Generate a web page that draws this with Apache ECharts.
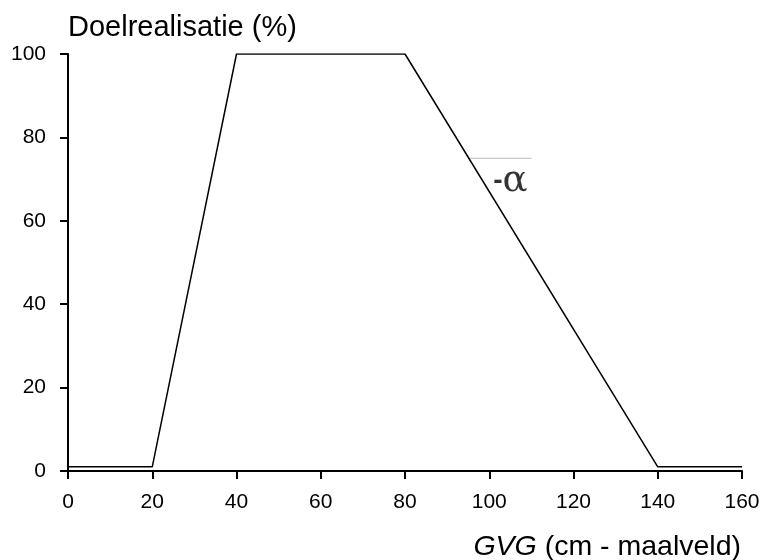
<!DOCTYPE html>
<html>
<head>
<meta charset="utf-8">
<script src="https://cdn.jsdelivr.net/npm/echarts@6/dist/echarts.min.js"></script>
<style>
  html, body { margin: 0; padding: 0; background: #fff; }
  #chart { width: 763px; height: 560px; }
</style>
</head>
<body>
<div id="chart"></div>
<script>
// GVG (cm - maalveld) vs doelrealisatie (%)
const gvg = [0, 20, 40, 80, 140, 160];
const realisatie = [1, 1, 100, 100, 1, 1];
// slope marker (grey line) and its label
const slopeLine = [[95, 75], [110, 75]];
const slopeLabel = [[105, 69.5]];
const xTicks = [0, 20, 40, 60, 80, 100, 120, 140, 160];
const yTicks = [0, 20, 40, 60, 80, 100];

const chart = echarts.init(document.getElementById('chart'));
const font = 'Liberation Sans, Arial, sans-serif';

const option = {
    animation: false,
    title: {
        text: '{i|GVG} (cm - maalveld)',
        right: 17,
        top: 528,
        textStyle: {
            fontFamily: font,
            fontSize: 28.5,
            fontWeight: 'normal',
            color: '#000',
            rich: {
                i: { fontFamily: font, fontSize: 28.5, fontStyle: 'italic', color: '#000' }
            }
        }
    },
    grid: { left: 68, right: 21, top: 54, bottom: 89 },
    xAxis: {
        type: 'value',
        min: xTicks[0],
        max: xTicks[xTicks.length - 1],
        interval: 20,
        splitLine: { show: false },
        axisLine: { onZero: false, lineStyle: { color: '#000', width: 2 } },
        axisTick: { length: 8, lineStyle: { color: '#000', width: 2 } },
        axisLabel: { color: '#000', fontFamily: font, fontSize: 21, margin: 21 }
    },
    yAxis: {
        type: 'value',
        min: yTicks[0],
        max: yTicks[yTicks.length - 1],
        interval: 20,
        name: 'Doelrealisatie (%)',
        nameLocation: 'end',
        nameGap: 12,
        nameTextStyle: { color: '#000', fontFamily: font, fontSize: 29, align: 'left' },
        splitLine: { show: false },
        axisLine: { lineStyle: { color: '#000', width: 2 } },
        axisTick: { length: 8, lineStyle: { color: '#000', width: 2 } },
        axisLabel: { color: '#000', fontFamily: font, fontSize: 21, margin: 22 }
    },
    series: [
        {
            type: 'line',
            data: gvg.map((x, i) => [x, realisatie[i]]),
            symbol: 'none',
            lineStyle: { color: '#000', width: 1.5 },
            z: 3
        },
        {
            type: 'line',
            data: slopeLine,
            symbol: 'none',
            lineStyle: { color: '#bbb', width: 1 },
            z: 2
        },
        {
            type: 'scatter',
            data: slopeLabel,
            symbolSize: 0,
            label: {
                show: true,
                position: 'inside',
                formatter: '{m|-}{a|α}',
                rich: {
                    m: { fontFamily: font, fontSize: 28, fontWeight: 'bold', color: '#000' },
                    a: { fontFamily: 'DejaVu Serif, serif', fontSize: 37, color: '#000' }
                }
            }
        }
    ]
};

chart.setOption(option);
</script>
</body>
</html>
